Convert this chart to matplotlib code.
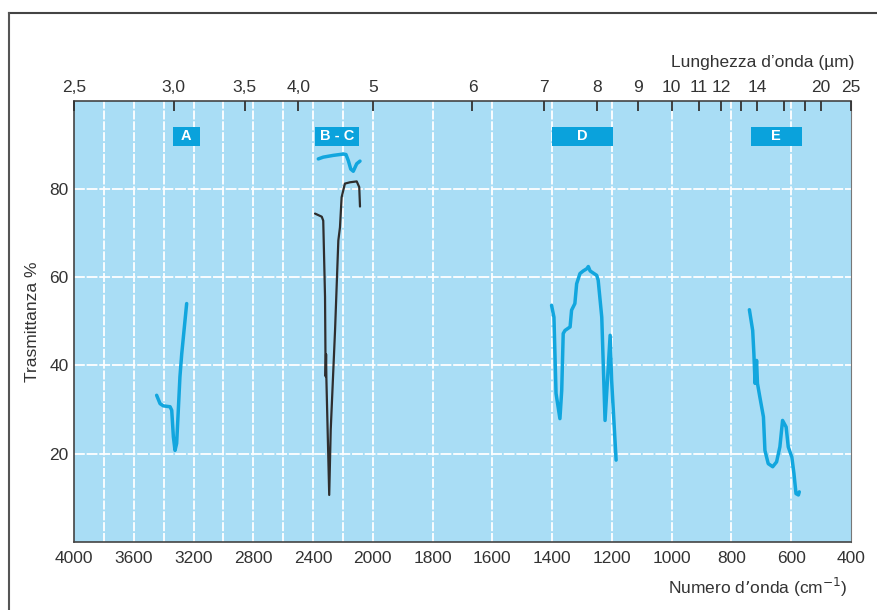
import numpy as np
import matplotlib
matplotlib.use("Agg")
import matplotlib.pyplot as plt
from matplotlib.lines import Line2D
from matplotlib import font_manager

# ---------------- data ----------------
bottom_ticks = [4000, 3600, 3200, 2800, 2400, 2000, 1800, 1600, 1400, 1200, 1000, 800, 600, 400]
top_tick_um = [2.5, 3.0, 3.5, 4.0, 5, 6, 7, 8, 9, 10, 11, 12, 14, 20, 25]
top_tick_labels = ["2,5", "3,0", "3,5", "4,0", "5", "6", "7", "8", "9", "10", "11", "12", "14", "20", "25"]
top_minor_um = [13, 16, 18]
y_ticks = [20, 40, 60, 80]

a_wn = [3447, 3424, 3402, 3357, 3346, 3335, 3324, 3313, 3302, 3291, 3279, 3268, 3246]
a_t = [33.2, 31.3, 30.8, 30.6, 29.8, 23.8, 20.7, 22.3, 29.8, 37.4, 42.6, 46.4, 54.0]

bc_blue_wn = [2365, 2332, 2265, 2198, 2180, 2164, 2148, 2131, 2108, 2086]
bc_blue_t = [86.8, 87.2, 87.6, 87.9, 87.8, 86.4, 84.5, 84.0, 85.7, 86.3]

bc_black_wn = [2387, 2342, 2332, 2320, 2316, 2313, 2311, 2292, 2282, 2253, 2231, 2220, 2209, 2187, 2153, 2108, 2091, 2086]
bc_black_t = [74.4, 73.7, 72.8, 55.5, 37.5, 42.5, 37.0, 10.6, 25.3, 47.9, 68.3, 71.3, 78.1, 81.2, 81.5, 81.7, 80.4, 76.0]

d_wn = [1402, 1394, 1391, 1387, 1374, 1368, 1363, 1357, 1340, 1335, 1324, 1318, 1307, 1296, 1284, 1279, 1273, 1251, 1246, 1234, 1223, 1206, 1201, 1186]
d_t = [53.6, 50.9, 43.4, 33.6, 27.9, 34.3, 47.2, 47.9, 48.7, 52.5, 54.0, 58.5, 60.8, 61.4, 61.9, 62.4, 61.4, 60.4, 59.3, 50.9, 27.5, 46.8, 36.6, 18.5]

e_wn = [740, 729, 725, 721, 716, 713, 705, 693, 688, 677, 662, 649, 638, 629, 617, 610, 598, 591, 584, 576, 573]
e_t = [52.6, 47.9, 42.7, 35.9, 41.1, 35.9, 32.8, 28.3, 20.7, 17.7, 17.0, 18.1, 21.5, 27.5, 26.0, 21.5, 19.2, 15.5, 10.9, 10.6, 11.3]

region_labels = ["A", "B - C", "D", "E"]
region_spans = [(3340, 3160), (2385, 2090), (1400, 1195), (735, 565)]

# ---------------- style ----------------
names = {f.name for f in font_manager.fontManager.ttflist}
fam = "Liberation Sans Narrow" if "Liberation Sans Narrow" in names else "Liberation Sans"
plt.rcParams["font.family"] = [fam, "DejaVu Sans"]
FS = 13.5 if fam == "Liberation Sans Narrow" else 12.5

BG = "#a9ddf5"
LINE_BLUE = "#12a6de"
BOX_BLUE = "#0aa2dc"
TXT = "#333333"


def fwd(w):
    w = np.asarray(w, dtype=float)
    return np.where(w >= 2000, (w - 2000) / 400.0, (w - 2000) / 200.0)


def inv(t):
    t = np.asarray(t, dtype=float)
    return np.where(t >= 0, 2000 + 400.0 * t, 2000 + 200.0 * t)


fig = plt.figure(figsize=(8.78, 6.10), dpi=100)
ax = fig.add_axes([74 / 878, 1 - 541.7 / 610, 777 / 878, (541.7 - 100.7) / 610])
ax.set_xscale("function", functions=(fwd, inv))
ax.set_xlim(4000, 400)
ax.set_ylim(0, 100)
ax.set_facecolor(BG)

# grid
vgrid = list(range(3800, 1999, -200)) + list(range(1800, 599, -200))
for g in vgrid:
    ax.axvline(g, color="white", lw=1.3, ls=(0, (5, 1)), zorder=1)
for g in y_ticks:
    ax.axhline(g, color="white", lw=1.3, ls=(0, (6, 1)), zorder=1)

# spectra
kw = dict(solid_capstyle="round", solid_joinstyle="round", zorder=3)
ax.plot(a_wn, a_t, color=LINE_BLUE, lw=2.5, **kw)
ax.plot(bc_blue_wn, bc_blue_t, color=LINE_BLUE, lw=2.5, **kw)
ax.plot(bc_black_wn, bc_black_t, color="#2e2e2e", lw=1.6, **kw)
ax.plot(d_wn, d_t, color=LINE_BLUE, lw=2.5, **kw)
ax.plot(e_wn, e_t, color=LINE_BLUE, lw=2.5, **kw)

# region boxes
for lab, (w0, w1) in zip(region_labels, region_spans):
    ax.fill_between([w0, w1], 89.8, 94.1, color=BOX_BLUE, lw=0, zorder=4)
    ax.text(float(inv((fwd(w0) + fwd(w1)) / 2)), 91.95, lab, color="white", fontsize=10.5,
            fontweight="bold", ha="center", va="center", zorder=5)

# axes styling
for s in ax.spines.values():
    s.set_color("#444444")
    s.set_linewidth(1.2)
ax.spines["right"].set_color("#777777")
ax.spines["right"].set_linewidth(0.8)

ax.set_xticks(bottom_ticks)
ax.set_xticklabels([str(t) for t in bottom_ticks], fontsize=FS, color=TXT)
ax.xaxis.set_minor_locator(matplotlib.ticker.NullLocator())
ax.tick_params(axis="x", length=0, pad=7)
ax.set_yticks(y_ticks)
ax.set_yticklabels([str(t) for t in y_ticks], fontsize=FS, color=TXT)
ax.tick_params(axis="y", length=0, pad=4)

# top wavelength axis (same non-linear wavenumber scale, ticks placed at 10000/um)
top = ax.twiny()
top.set_xscale("function", functions=(fwd, inv))
top.set_xlim(4000, 400)
top.set_xticks([10000.0 / u for u in top_tick_um])
top.set_xticklabels(top_tick_labels, fontsize=FS, color=TXT)
top.set_xticks([10000.0 / u for u in top_minor_um], minor=True)
top.tick_params(axis="x", which="both", direction="in", length=7, width=1.3, color="#333333", pad=4)
for s in top.spines.values():
    s.set_visible(False)

# labels
fig.text(854 / 878, 1 - 62 / 610, "Lunghezza d\u2019onda (\u00b5m)", ha="right", va="center",
         fontsize=FS, color=TXT)
fig.text(848 / 878, 1 - 587 / 610, "Numero d\u2019onda (cm$^{-1}$)", ha="right", va="center",
         fontsize=FS, color=TXT)
fig.text(33 / 878, 1 - 322 / 610, "Trasmittanza %", rotation=90, ha="center", va="center",
         fontsize=FS, color=TXT)

# outer frame (top and left)
fig.add_artist(Line2D([8.5 / 878, 1.0], [1 - 13 / 610, 1 - 13 / 610], color="#444444", lw=1.5,
                      transform=fig.transFigure))
fig.add_artist(Line2D([8.5 / 878, 8.5 / 878], [0, 1 - 13 / 610], color="#555555", lw=1.5,
                      transform=fig.transFigure))

fig.savefig("out.png", dpi=100)
